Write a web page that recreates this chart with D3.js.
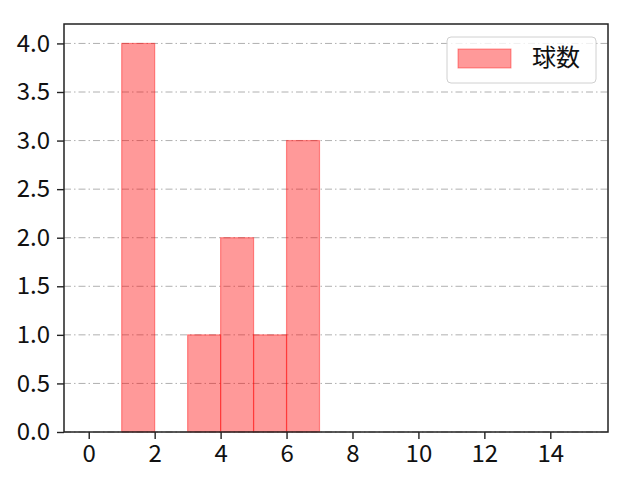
<!DOCTYPE html>
<html>
<head>
<meta charset="utf-8">
<script src="https://cdn.jsdelivr.net/npm/d3@7"></script>
<style>
  body { margin: 0; background: #fff; }
  text { font-family: "Noto Sans CJK JP", "DejaVu Sans", sans-serif; }
</style>
</head>
<body>
<div id="chart"></div>
<script>
// histogram bins (left edge, right edge) and counts
var binStart = [1, 3, 4, 5, 6];
var binEnd   = [2, 4, 5, 6, 7];
var counts   = [4, 1, 2, 1, 3];
var xTicks = [0, 2, 4, 6, 8, 10, 12, 14];
var yTicks = [0, 0.5, 1.0, 1.5, 2.0, 2.5, 3.0, 3.5, 4.0];
var seriesName = "球数";

function init()
{
  var w = 640;
  var h = 480;
  var left = 64, right = 608, top = 24, bottom = 432;

  var svg = d3.select("#chart")
              .append("svg")
              .attr("width", w)
              .attr("height", h);

  var x = d3.scaleLinear().domain([-0.75, 15.75]).range([left, right]);
  var y = d3.scaleLinear().domain([0, 4.2]).range([bottom, top]);

  // grid lines
  svg.selectAll("line.grid")
      .data(yTicks)
      .enter()
      .append("line")
      .attr("class", "grid")
      .attr("x1", left)
      .attr("x2", right)
      .attr("y1", function(d){ return y(d); })
      .attr("y2", function(d){ return y(d); })
      .attr("stroke", "#b0b0b0")
      .attr("stroke-width", 1)
      .attr("stroke-dasharray", "7,3,1.5,3");

  // bars
  svg.selectAll("rect.bar")
      .data(counts)
      .enter()
      .append("rect")
      .attr("class", "bar")
      .attr("x", function(d, i){ return x(binStart[i]); })
      .attr("width", function(d, i){ return x(binEnd[i]) - x(binStart[i]); })
      .attr("y", function(d){ return y(d); })
      .attr("height", function(d){ return y(0) - y(d); })
      .attr("fill", "rgba(255,0,0,0.4)")
      .attr("stroke", "rgba(255,0,0,0.4)")
      .attr("stroke-width", 1.2);

  // axes
  var xAxis = d3.axisBottom(x).tickValues(xTicks).tickSize(7).tickPadding(6)
                .tickFormat(d3.format("d"));
  var yAxis = d3.axisLeft(y).tickValues(yTicks).tickSize(7).tickPadding(7)
                .tickFormat(d3.format(".1f"));

  var gx = svg.append("g")
      .attr("transform", "translate(0," + bottom + ")")
      .call(xAxis);
  var gy = svg.append("g")
      .attr("transform", "translate(" + left + ",0)")
      .call(yAxis);

  [gx, gy].forEach(function(g){
    g.select(".domain").remove();
    g.selectAll(".tick line").attr("stroke", "#222").attr("stroke-width", 1.4);
    g.selectAll(".tick text").attr("fill", "#111").style("font-size", "24px");
  });

  // frame
  svg.append("rect")
      .attr("x", left)
      .attr("y", top)
      .attr("width", right - left)
      .attr("height", bottom - top)
      .attr("fill", "none")
      .attr("stroke", "#222")
      .attr("stroke-width", 1.5);

  // legend
  var lg = svg.append("g");
  lg.append("rect")
      .attr("x", 447).attr("y", 37)
      .attr("width", 149).attr("height", 46)
      .attr("rx", 4)
      .attr("fill", "rgba(255,255,255,0.8)")
      .attr("stroke", "#d0d0d0");
  lg.append("rect")
      .attr("x", 458).attr("y", 49)
      .attr("width", 53).attr("height", 19)
      .attr("fill", "rgba(255,0,0,0.4)")
      .attr("stroke", "rgba(255,0,0,0.4)");
  lg.append("text")
      .attr("x", 532).attr("y", 66)
      .attr("fill", "#111")
      .style("font-size", "24px")
      .text(seriesName);
}

window.onload = init;
</script>
</body>
</html>
